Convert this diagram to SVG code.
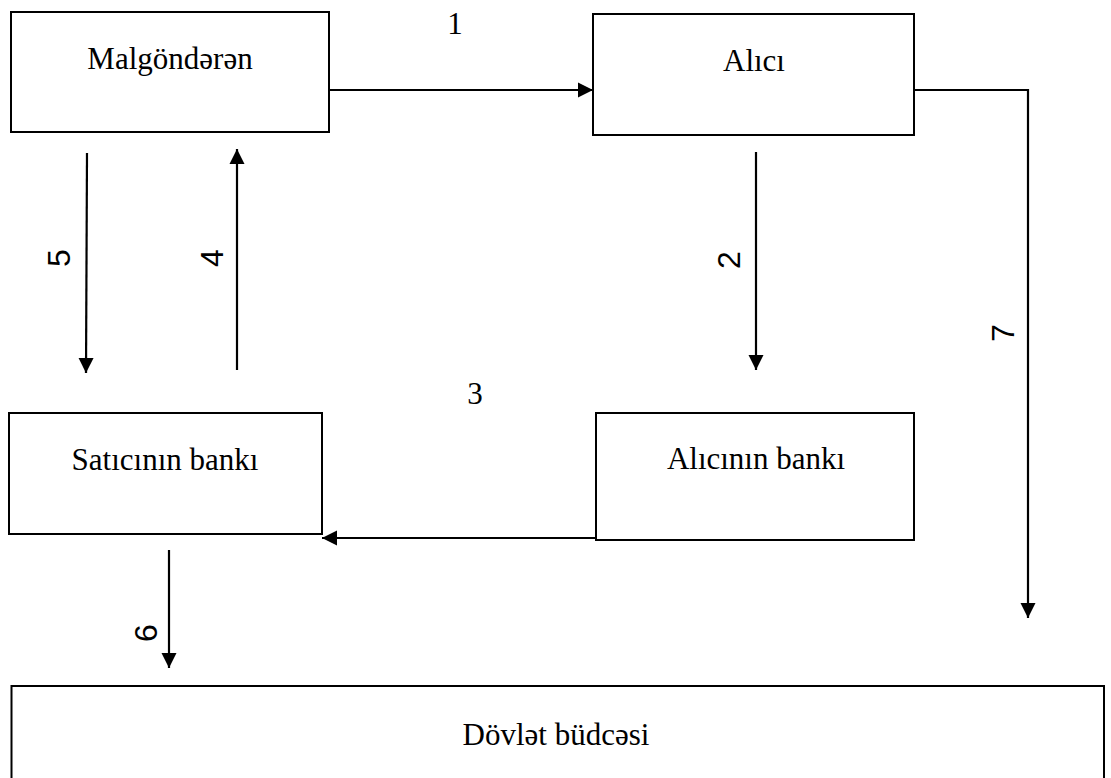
<svg xmlns="http://www.w3.org/2000/svg" width="1111" height="778" viewBox="0 0 1111 778">
<style>
.box{fill:#fff;stroke:#000;stroke-width:2}
.t{font-family:"Liberation Serif","Times New Roman",serif;font-size:31px;fill:#000;text-anchor:middle}
.n{font-family:"Liberation Sans",Arial,sans-serif;font-size:32px;fill:#000;text-anchor:middle}
.c{fill:none;stroke:#000;stroke-width:2.2}
.a{marker-end:url(#ah)}
</style>
<defs>
<marker id="ah" markerUnits="userSpaceOnUse" markerWidth="16" markerHeight="16" refX="15" refY="8" orient="auto" viewBox="0 0 16 16">
<path d="M0,0.5 L15,8 L0,15.5 Z" fill="#000"/>
</marker>
</defs>
<rect width="1111" height="778" fill="#fff"/>
<g id="malgonderen"><rect class="box" x="11" y="12" width="318" height="120"/><text class="t" x="170" y="69">Malgöndərən</text></g>
<g id="alici"><rect class="box" x="593" y="14" width="321" height="121"/><text class="t" x="754" y="71">Alıcı</text></g>
<g id="satici-banki"><rect class="box" x="9" y="413" width="313" height="121"/><text class="t" x="165" y="470">Satıcının bankı</text></g>
<g id="alici-banki"><rect class="box" x="596" y="413" width="318" height="127"/><text class="t" x="756" y="469">Alıcının bankı</text></g>
<g id="dovlet-budcesi"><rect class="box" x="11.5" y="686" width="1092.5" height="110"/><text class="t" x="556" y="745">Dövlət büdcəsi</text></g>
<g id="connectors">
<line class="c a" x1="330" y1="90" x2="593" y2="90"/>
<line class="c a" x1="756" y1="152" x2="756" y2="370"/>
<line class="c a" x1="595" y1="538" x2="322" y2="538"/>
<line class="c a" x1="237" y1="370" x2="237" y2="149"/>
<line class="c a" x1="87" y1="153" x2="86" y2="373"/>
<line class="c a" x1="169" y1="550" x2="169" y2="668"/>
<polyline class="c a" points="914,90 1028,90 1028,618"/>
</g>
<g id="labels">
<text class="t" x="455" y="34">1</text>
<text class="t" x="475" y="404">3</text>
<text class="n" transform="translate(70,258) rotate(-90)">5</text>
<text class="n" transform="translate(223,258) rotate(-90)">4</text>
<text class="n" transform="translate(740,260) rotate(-90)">2</text>
<text class="n" transform="translate(157,633) rotate(-90)">6</text>
<text class="n" transform="translate(1014,333) rotate(-90)">7</text>
</g>
</svg>
